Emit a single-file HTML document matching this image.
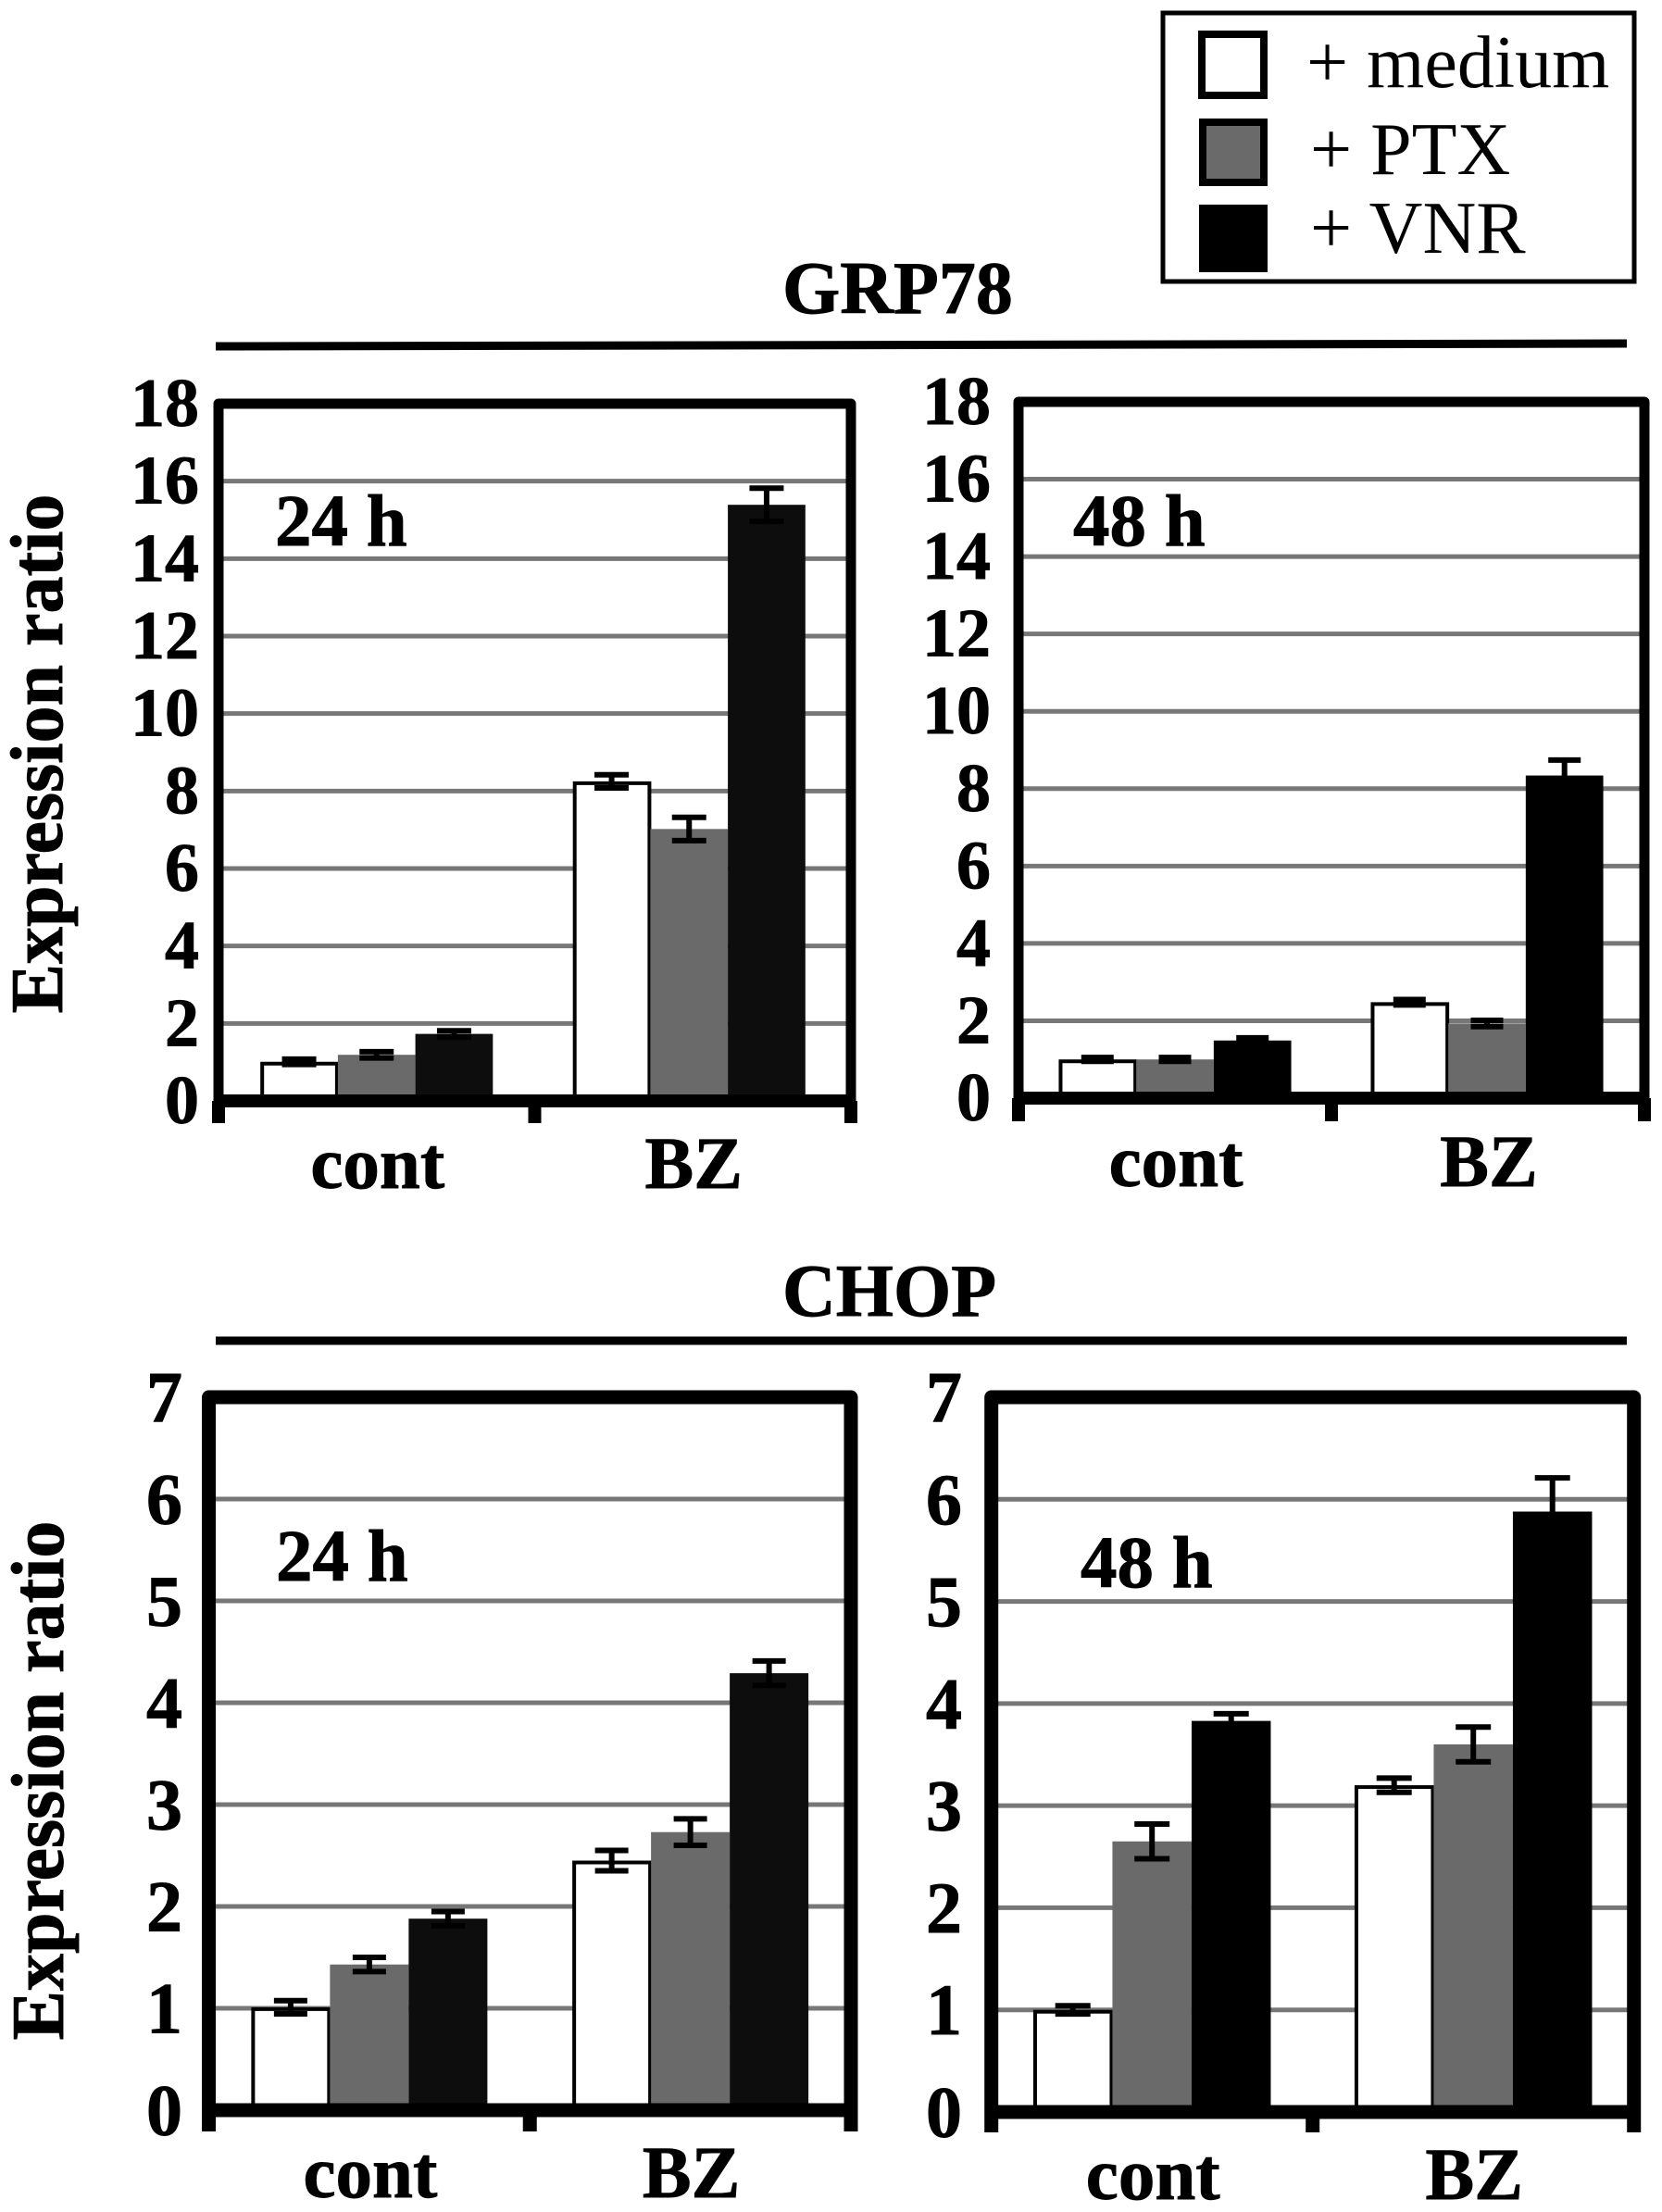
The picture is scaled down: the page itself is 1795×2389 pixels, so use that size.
<!DOCTYPE html>
<html lang="en">
<head>
<meta charset="utf-8">
<title>GRP78 and CHOP expression ratio</title>
<style>
html,body{margin:0;padding:0;background:#fff;width:1795px;height:2389px;overflow:hidden}
svg{display:block}
text{font-family:"Liberation Serif",serif;fill:#000}
.b{font-weight:bold;stroke:#000;stroke-width:0.9px}
</style>
</head>
<body>
<svg id="fig" xmlns="http://www.w3.org/2000/svg" width="1795" height="2389" viewBox="0 0 1795 2389">
  <rect width="1795" height="2389" fill="#fff"/>
  <g>
    <rect x="1256" y="14" width="509" height="290" fill="#fff" stroke="#000" stroke-width="5"/>
    <rect x="1298" y="37" width="67" height="66" fill="#fff" stroke="#000" stroke-width="8"/>
    <rect x="1299" y="132" width="66" height="65" fill="#6a6a6a" stroke="#000" stroke-width="8"/>
    <rect x="1295" y="221" width="74" height="73" fill="#000"/>
    <text x="1411" y="94" font-size="80">+ medium</text>
    <text x="1415" y="188" font-size="80">+ PTX</text>
    <text x="1415" y="273" font-size="80">+ VNR</text>
  </g>
  <text class="b" x="845" y="338" font-size="80">GRP78</text>
  <line x1="233" y1="374" x2="1757" y2="371" stroke="#000" stroke-width="9"/>
  <text class="b" x="845" y="1421" font-size="80">CHOP</text>
  <line x1="233" y1="1448" x2="1757" y2="1448" stroke="#000" stroke-width="9"/>
  <text class="b" transform="translate(67,814) rotate(-90)" text-anchor="middle" font-size="80">Expression ratio</text>
  <text class="b" transform="translate(68,1923) rotate(-90)" text-anchor="middle" font-size="80">Expression ratio</text>
</svg>
<script>
const categories = ['cont', 'BZ'];
const seriesNames = ['medium', 'PTX', 'VNR'];
const grpTicks = [0, 2, 4, 6, 8, 10, 12, 14, 16, 18];
const chopTicks = [0, 1, 2, 3, 4, 5, 6, 7];

const grp24Medium = [1.01, 8.25];
const grp24Ptx = [1.19, 7.02];
const grp24Vnr = [1.73, 15.39];
const grp24MediumErr = [0.07, 0.17];
const grp24PtxErr = [0.08, 0.30];
const grp24VnrErr = [0.08, 0.43];

const grp48Medium = [1.00, 2.48];
const grp48Ptx = [1.00, 1.93];
const grp48Vnr = [1.49, 8.34];
const grp48MediumErr = [0.05, 0.07];
const grp48PtxErr = [0.05, 0.08];
const grp48VnrErr = [0.07, 0.40];

const chop24Medium = [1.01, 2.45];
const chop24Ptx = [1.43, 2.73];
const chop24Vnr = [1.88, 4.29];
const chop24MediumErr = [0.065, 0.10];
const chop24PtxErr = [0.07, 0.13];
const chop24VnrErr = [0.07, 0.12];

const chop48Medium = [1.00, 3.20];
const chop48Ptx = [2.65, 3.60];
const chop48Vnr = [3.83, 5.88];
const chop48MediumErr = [0.04, 0.07];
const chop48PtxErr = [0.17, 0.17];
const chop48VnrErr = [0.07, 0.33];

const panels = [
  {id:'grp78-24h', left:236, right:919, top:436, zero:1189, max:18, ticks:grpTicks, tickX:215, secondGroupShift:-4,
   fs:74, frame:11, base:1189, baseW:14, tickW:14, tickEnd:1213, barW:83.7, capW:37, label:'24 h', labelX:297, labelY:589, catY:1283,
   vals:[grp24Medium, grp24Ptx, grp24Vnr], errs:[grp24MediumErr, grp24PtxErr, grp24VnrErr], vnr:'#0d0d0d'},
  {id:'grp78-48h', left:1100, right:1776, top:434, zero:1186, max:18, ticks:grpTicks, tickX:1070, secondGroupShift:-1,
   fs:74, frame:11, base:1186, baseW:14, tickW:14, tickEnd:1211, barW:83.7, capW:35, label:'48 h', labelX:1159, labelY:589, catY:1281,
   vals:[grp48Medium, grp48Ptx, grp48Vnr], errs:[grp48MediumErr, grp48PtxErr, grp48VnrErr], vnr:'#000'},
  {id:'chop-24h', left:225.5, right:919, top:1509, zero:2279, max:7, ticks:chopTicks, tickX:197, secondGroupShift:0,
   fs:78, frame:15, base:2279, baseW:15, tickW:15, tickEnd:2302, barW:85, capW:36, label:'24 h', labelX:298, labelY:1707, catY:2373,
   vals:[chop24Medium, chop24Ptx, chop24Vnr], errs:[chop24MediumErr, chop24PtxErr, chop24VnrErr], vnr:'#0d0d0d'},
  {id:'chop-48h', left:1070.7, right:1764.7, top:1509, zero:2281, max:7, ticks:chopTicks, tickX:1039, secondGroupShift:0,
   fs:78, frame:15, base:2281, baseW:15, tickW:15, tickEnd:2303, barW:85.5, capW:38, label:'48 h', labelX:1167, labelY:1714, catY:2375,
   vals:[chop48Medium, chop48Ptx, chop48Vnr], errs:[chop48MediumErr, chop48PtxErr, chop48VnrErr], vnr:'#000'}
];

const NS = 'http://www.w3.org/2000/svg';
const fig = document.getElementById('fig');

function make(parent, tag, attrs, txt) {
  const el = document.createElementNS(NS, tag);
  for (const k in attrs) el.setAttribute(k, attrs[k]);
  if (txt !== undefined) el.textContent = txt;
  parent.appendChild(el);
  return el;
}

panels.forEach(function (p) {
  const y = function (v) { return p.zero - (p.zero - p.top) * v / p.max; };
  const groupW = (p.right - p.left) / categories.length;
  const center = function (g) { return p.left + groupW * (g + 0.5); };
  const barX = function (g, s) { return center(g) + (g === 1 ? p.secondGroupShift : 0) + (s - 1.5) * p.barW; };

  const panel = make(fig, 'g', {});
  
  

  p.ticks.forEach(function (t) {
    if (t !== 0 && t !== p.max) {
      const grid = make(panel, 'line', {x1: p.left, x2: p.right, y1: y(t), y2: y(t), stroke: '#777', 'stroke-width': 5});
      
      
    }
    const lab = make(panel, 'text', {x: p.tickX, y: y(t), 'text-anchor': 'end', 'dominant-baseline': 'central', 'font-size': p.fs, 'class': 'b'}, String(t));
    
    
  });

  const fills = ['#fff', '#6a6a6a', p.vnr];
  p.vals.forEach(function (arr, s) {
    arr.forEach(function (v, g) {
      const inset = s === 0 ? 2 : 0;
      const bar = make(panel, 'rect', {
        x: barX(g, s) + inset, y: y(v) + inset,
        width: p.barW - inset * 2 + (s === 0 ? 1 : 0),
        height: Math.max(0, p.zero - y(v) - inset),
        fill: fills[s],
        stroke: s === 0 ? '#000' : 'none',
        'stroke-width': s === 0 ? 4 : 0
      });
      
      
    });
  });

  p.errs.forEach(function (arr, s) {
    arr.forEach(function (e, g) {
      const cx = barX(g, s) + p.barW / 2;
      const v = p.vals[s][g];
      const err = make(panel, 'path', {
        d: 'M' + cx + ' ' + y(v + e) + 'V' + y(v - e) +
           'M' + (cx - p.capW / 2) + ' ' + y(v + e) + 'h' + p.capW +
           'M' + (cx - p.capW / 2) + ' ' + y(v - e) + 'h' + p.capW,
        fill: 'none', stroke: '#000', 'stroke-width': 6
      });
      
      
    });
  });

  const frame = make(panel, 'path', {
    d: 'M' + p.left + ' ' + p.zero + 'V' + p.top + 'H' + p.right + 'V' + p.zero,
    fill: 'none', stroke: '#000', 'stroke-width': p.frame, 'stroke-linejoin': 'round'
  });
  
  

  const axis = make(panel, 'line', {x1: p.left - 4, x2: p.right + 4, y1: p.base, y2: p.base, stroke: '#000', 'stroke-width': p.baseW});
  
  

  for (let i = 0; i <= categories.length; i++) {
    const tx = p.left + groupW * i;
    const tick = make(panel, 'line', {x1: tx, x2: tx, y1: p.base, y2: p.tickEnd, stroke: '#000', 'stroke-width': p.tickW});
    
    
  }

  categories.forEach(function (c, g) {
    const cat = make(panel, 'text', {x: center(g) + 1, y: p.catY, 'text-anchor': 'middle', 'font-size': 79, 'class': 'b'}, c);
    
    
  });

  const tl = make(panel, 'text', {x: p.labelX, y: p.labelY, 'font-size': 79, 'class': 'b'}, p.label);
  
  
});
</script>
</body>
</html>
